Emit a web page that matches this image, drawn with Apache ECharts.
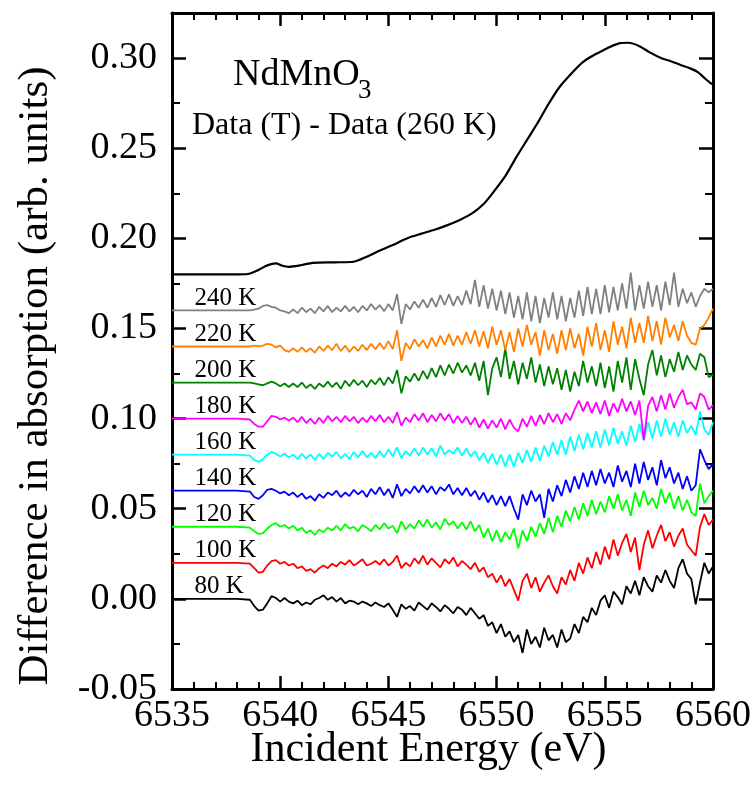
<!DOCTYPE html>
<html><head><meta charset="utf-8">
<script src="https://cdn.jsdelivr.net/npm/echarts@6/dist/echarts.min.js"></script>
<style>html,body{margin:0;padding:0;background:#fff}#chart{width:755px;height:795px}</style>
</head><body><div id="chart"></div>
<script>
// ---------- DATA ----------
const energies = [6535, 6536.5, 6538,
 6538.6, 6538.8, 6539, 6539.2, 6539.4, 6539.6, 6539.8, 6540, 6540.2, 6540.4,
 6540.6, 6540.8, 6541, 6541.2, 6541.4, 6541.6, 6541.8, 6542, 6542.2, 6542.4,
 6542.6, 6542.8, 6543, 6543.2, 6543.4, 6543.6, 6543.8, 6544, 6544.2, 6544.4,
 6544.6, 6544.8, 6545, 6545.2, 6545.4, 6545.6, 6545.8, 6546, 6546.2, 6546.4,
 6546.6, 6546.8, 6547, 6547.2, 6547.4, 6547.6, 6547.8, 6548, 6548.2, 6548.4,
 6548.6, 6548.8, 6549, 6549.2, 6549.4, 6549.6, 6549.8, 6550, 6550.2, 6550.4,
 6550.6, 6550.8, 6551, 6551.2, 6551.4, 6551.6, 6551.8, 6552, 6552.2, 6552.4,
 6552.6, 6552.8, 6553, 6553.2, 6553.4, 6553.6, 6553.8, 6554, 6554.2, 6554.4,
 6554.6, 6554.8, 6555, 6555.2, 6555.4, 6555.6, 6555.8, 6556, 6556.2, 6556.4,
 6556.6, 6556.8, 6557, 6557.2, 6557.4, 6557.6, 6557.8, 6558, 6558.2, 6558.4,
 6558.6, 6558.8, 6559, 6559.2, 6559.4, 6559.6, 6559.8, 6560];

const t80 = [0, 0, 0,
 -0.0005, -0.004, -0.0065, -0.006, -0.0025, 0.0015, 0.0005, -0.0015, 0.0005, -0.0015,
 -0.0025, -0.001, -0.0035, -0.002, -0.003, -0.0005, 0.0005, 0.002, -0.0005, 0.001,
 -0.0015, 0.0005, -0.0025, -0.001, -0.0015, -0.003, -0.0015, -0.0025, -0.004, -0.002,
 -0.0035, -0.0045, -0.0025, -0.006, -0.01, -0.003, -0.0055, -0.004, -0.0065, -0.002,
 -0.004, -0.006, -0.0025, -0.0045, -0.007, -0.0035, -0.0055, -0.008, -0.0045, -0.006,
 -0.009, -0.005, -0.008, -0.011, -0.009, -0.015, -0.013, -0.019, -0.014, -0.021,
 -0.018, -0.024, -0.02, -0.03, -0.017, -0.025, -0.021, -0.027, -0.016, -0.023,
 -0.02, -0.027, -0.017, -0.024, -0.022, -0.014, -0.019, -0.01, -0.013, -0.005,
 -0.009, -0.001, 0.002, -0.005, 0.004, 0.001, -0.003, 0.007, 0.003, 0.01,
 0.002, 0.012, 0.007, 0.004, 0.013, 0.009, 0.016, 0.01, 0.006, 0.017,
 0.022, 0.014, 0.011, -0.003, 0.009, 0.02, 0.014, 0.018];

const t100 = [0.02, 0.02, 0.02,
 0.0195, 0.017, 0.0145, 0.015, 0.0185, 0.021, 0.0215, 0.0195, 0.0205, 0.0185,
 0.0195, 0.017, 0.018, 0.0155, 0.0165, 0.0145, 0.017, 0.0185, 0.017, 0.0195,
 0.018, 0.0205, 0.019, 0.0215, 0.0185, 0.02, 0.022, 0.0185, 0.0195, 0.021,
 0.019, 0.022, 0.0185, 0.0205, 0.024, 0.017, 0.02, 0.018, 0.0225, 0.0195,
 0.024, 0.019, 0.0225, 0.02, 0.0175, 0.022, 0.0195, 0.023, 0.018, 0.021,
 0.019, 0.0165, 0.02, 0.015, 0.0175, 0.012, 0.014, 0.009, 0.013, 0.007,
 0.011, 0.005, -0.001, 0.01, 0.014, 0.006, 0.012, 0.004, 0.009, 0.013,
 0.007, 0.003, 0.012, 0.008, 0.016, 0.01, 0.02, 0.014, 0.023, 0.017,
 0.026, 0.019, 0.029, 0.022, 0.033, 0.024, 0.031, 0.036, 0.026, 0.034,
 0.016, 0.03, 0.038, 0.028, 0.035, 0.041, 0.032, 0.037, 0.029, 0.035,
 0.039, 0.03, 0.027, 0.024, 0.04, 0.047, 0.041, 0.044];

const t120 = [0.04, 0.04, 0.04,
 0.0395, 0.0375, 0.036, 0.0365, 0.039, 0.041, 0.042, 0.04, 0.041, 0.039,
 0.0405, 0.038, 0.0395, 0.0365, 0.038, 0.0355, 0.0385, 0.037, 0.0395, 0.038,
 0.0405, 0.038, 0.0415, 0.039, 0.04, 0.0375, 0.041, 0.0395, 0.0375, 0.041,
 0.0385, 0.042, 0.039, 0.0405, 0.0365, 0.043, 0.0385, 0.0415, 0.039, 0.0435,
 0.04, 0.044, 0.0395, 0.0425, 0.0385, 0.0445, 0.041, 0.043, 0.039, 0.0425,
 0.0385, 0.043, 0.0375, 0.041, 0.034, 0.039, 0.032, 0.038, 0.0315, 0.037,
 0.033, 0.039, 0.028, 0.038, 0.032, 0.04, 0.0345, 0.042, 0.036, 0.045,
 0.037, 0.046, 0.04, 0.049, 0.043, 0.051, 0.044, 0.053, 0.046, 0.055,
 0.047, 0.054, 0.048, 0.057, 0.05, 0.058, 0.049, 0.055, 0.046, 0.059,
 0.051, 0.06, 0.052, 0.056, 0.05, 0.061, 0.053, 0.059, 0.05, 0.057,
 0.049, 0.055, 0.048, 0.046, 0.064, 0.053, 0.057, 0.06];

const t140 = [0.06, 0.06, 0.06,
 0.0595, 0.0565, 0.0555, 0.0575, 0.0605, 0.061, 0.06, 0.0585, 0.0595, 0.0575,
 0.059, 0.0565, 0.0585, 0.0555, 0.057, 0.0545, 0.058, 0.056, 0.059, 0.0575,
 0.06, 0.0565, 0.059, 0.057, 0.0605, 0.058, 0.06, 0.0565, 0.061, 0.058,
 0.062, 0.0575, 0.061, 0.056, 0.0635, 0.057, 0.061, 0.0585, 0.0625, 0.059,
 0.063, 0.059, 0.0625, 0.058, 0.062, 0.06, 0.0635, 0.058, 0.0615, 0.0575,
 0.0615, 0.057, 0.06, 0.055, 0.059, 0.0535, 0.0575, 0.052, 0.057, 0.0515,
 0.057, 0.05, 0.044, 0.058, 0.052, 0.06, 0.054, 0.058, 0.045, 0.061,
 0.054, 0.063, 0.057, 0.066, 0.059, 0.068, 0.061, 0.07, 0.062, 0.071,
 0.063, 0.072, 0.064, 0.07, 0.062, 0.074, 0.065, 0.071, 0.062, 0.075,
 0.064, 0.076, 0.066, 0.073, 0.063, 0.077, 0.067, 0.073, 0.064, 0.07,
 0.061, 0.068, 0.06, 0.063, 0.083, 0.077, 0.072, 0.075];

const t160 = [0.08, 0.08, 0.08,
 0.0795, 0.077, 0.076, 0.0775, 0.08, 0.0815, 0.0805, 0.079, 0.0805, 0.0785,
 0.08, 0.0775, 0.0805, 0.078, 0.08, 0.077, 0.0805, 0.0775, 0.081, 0.079,
 0.0815, 0.078, 0.0805, 0.0775, 0.0815, 0.0785, 0.082, 0.0785, 0.081, 0.078,
 0.082, 0.0785, 0.083, 0.079, 0.084, 0.078, 0.082, 0.0795, 0.0835, 0.0795,
 0.084, 0.08, 0.0835, 0.079, 0.085, 0.08, 0.0825, 0.0805, 0.084, 0.0795,
 0.0835, 0.079, 0.082, 0.077, 0.081, 0.0755, 0.0805, 0.0745, 0.08, 0.0735,
 0.08, 0.073, 0.081, 0.0755, 0.0825, 0.076, 0.084, 0.0765, 0.085, 0.079,
 0.087, 0.08, 0.088, 0.08, 0.09, 0.082, 0.091, 0.083, 0.092, 0.084,
 0.093, 0.084, 0.094, 0.085, 0.095, 0.086, 0.093, 0.085, 0.096, 0.087,
 0.097, 0.088, 0.098, 0.089, 0.099, 0.09, 0.1, 0.091, 0.098, 0.09,
 0.099, 0.092, 0.096, 0.091, 0.104, 0.094, 0.091, 0.098];

const t180 = [0.1, 0.1, 0.1,
 0.0995, 0.097, 0.0955, 0.0955, 0.0985, 0.1015, 0.101, 0.0995, 0.1005, 0.099,
 0.1005, 0.098, 0.101, 0.0975, 0.1, 0.097, 0.1005, 0.0975, 0.1015, 0.0985,
 0.101, 0.098, 0.1015, 0.0985, 0.101, 0.0975, 0.1005, 0.098, 0.1015, 0.0985,
 0.102, 0.098, 0.101, 0.0975, 0.1035, 0.096, 0.1005, 0.098, 0.1025, 0.099,
 0.103, 0.098, 0.102, 0.0985, 0.103, 0.099, 0.1025, 0.0975, 0.1015, 0.0975,
 0.101, 0.0965, 0.1005, 0.095, 0.0995, 0.0945, 0.099, 0.095, 0.1, 0.094,
 0.0995, 0.095, 0.093, 0.1, 0.0955, 0.1015, 0.096, 0.102, 0.097, 0.103,
 0.098, 0.1025, 0.097, 0.103, 0.099, 0.105, 0.11, 0.104, 0.1095, 0.103,
 0.109, 0.1025, 0.11, 0.1015, 0.1085, 0.1035, 0.111, 0.104, 0.1095, 0.102,
 0.11, 0.088, 0.107, 0.112, 0.104, 0.113, 0.105, 0.114, 0.106, 0.112,
 0.116, 0.108, 0.109, 0.105, 0.114, 0.112, 0.105, 0.1075];

const t200 = [0.12, 0.12, 0.12,
 0.12, 0.1195, 0.119, 0.1185, 0.1195, 0.1205, 0.1195, 0.118, 0.1195, 0.1175,
 0.1195, 0.1175, 0.12, 0.117, 0.119, 0.1165, 0.1195, 0.1175, 0.1205, 0.1175,
 0.12, 0.1165, 0.121, 0.118, 0.1215, 0.1185, 0.121, 0.1175, 0.1215, 0.119,
 0.1225, 0.1185, 0.123, 0.1195, 0.127, 0.114, 0.1235, 0.1205, 0.125, 0.121,
 0.1265, 0.122, 0.128, 0.123, 0.1295, 0.124, 0.13, 0.125, 0.131, 0.1255,
 0.1295, 0.124, 0.131, 0.121, 0.132, 0.113, 0.128, 0.134, 0.123, 0.139,
 0.122, 0.132, 0.119, 0.131, 0.122, 0.134, 0.12, 0.13, 0.118, 0.129,
 0.119, 0.128, 0.116, 0.127, 0.115, 0.126, 0.118, 0.132, 0.12, 0.129,
 0.118, 0.131, 0.117, 0.129, 0.115, 0.132, 0.12, 0.134, 0.116, 0.133,
 0.122, 0.113, 0.13, 0.138, 0.124, 0.135, 0.123, 0.133, 0.126, 0.137,
 0.127, 0.135, 0.13, 0.127, 0.136, 0.134, 0.123, 0.1245];

const t220 = [0.14, 0.14, 0.14,
 0.14, 0.1405, 0.14, 0.1405, 0.1415, 0.141, 0.1395, 0.1405, 0.138, 0.137,
 0.139, 0.137, 0.1395, 0.137, 0.139, 0.1365, 0.14, 0.1375, 0.1405, 0.138,
 0.1415, 0.1375, 0.1405, 0.137, 0.14, 0.1375, 0.141, 0.138, 0.1415, 0.1385,
 0.142, 0.1385, 0.143, 0.1385, 0.149, 0.132, 0.142, 0.1385, 0.144, 0.14,
 0.1435, 0.139, 0.145, 0.14, 0.146, 0.141, 0.147, 0.1405, 0.146, 0.141,
 0.148, 0.1415, 0.149, 0.14, 0.1485, 0.139, 0.151, 0.141, 0.149, 0.138,
 0.148, 0.137, 0.15, 0.14, 0.152, 0.141, 0.148, 0.135, 0.149, 0.138,
 0.147, 0.136, 0.149, 0.138, 0.15, 0.139, 0.147, 0.135, 0.151, 0.14,
 0.153, 0.138, 0.149, 0.137, 0.154, 0.141, 0.151, 0.139, 0.156, 0.142,
 0.153, 0.142, 0.157, 0.143, 0.154, 0.141, 0.156, 0.145, 0.152, 0.143,
 0.154, 0.146, 0.142, 0.141, 0.15, 0.152, 0.156, 0.161];

const t240 = [0.16, 0.16, 0.16,
 0.16, 0.1605, 0.161, 0.1625, 0.163, 0.162, 0.1615, 0.16, 0.1595, 0.1585,
 0.1605, 0.1585, 0.1615, 0.159, 0.161, 0.1585, 0.162, 0.1595, 0.1625, 0.159,
 0.1615, 0.1595, 0.1625, 0.1595, 0.162, 0.159, 0.1625, 0.16, 0.1635, 0.1605,
 0.163, 0.1595, 0.1635, 0.16, 0.169, 0.1525, 0.1635, 0.1605, 0.165, 0.1615,
 0.166, 0.1615, 0.167, 0.162, 0.1685, 0.163, 0.169, 0.1625, 0.168, 0.163,
 0.171, 0.1635, 0.177, 0.162, 0.174, 0.161, 0.172, 0.16, 0.171, 0.158,
 0.17, 0.156, 0.168, 0.155, 0.17, 0.154, 0.168, 0.153, 0.167, 0.156,
 0.17, 0.155, 0.168, 0.154, 0.167, 0.156, 0.171, 0.157, 0.173, 0.158,
 0.172, 0.158, 0.174, 0.159, 0.173, 0.16, 0.175, 0.161, 0.181, 0.16,
 0.174, 0.161, 0.176, 0.162, 0.174, 0.16, 0.176, 0.163, 0.181, 0.162,
 0.172, 0.164, 0.17, 0.162, 0.168, 0.172, 0.17, 0.172];

// upper curve
const topEnergies = [6535, 6538, 6538.5, 6539, 6539.4, 6539.8, 6540.1, 6540.4, 6541, 6541.5,
 6542.5, 6543.4, 6544, 6544.6, 6545.2, 6545.9, 6546.5, 6547.1, 6547.7, 6548.3,
 6548.9, 6549.4, 6549.8, 6550.4, 6550.9, 6551.4, 6551.9, 6552.4, 6552.9, 6553.5,
 6554, 6554.4, 6554.8, 6555.2, 6555.7, 6556.1, 6556.6, 6557.1, 6557.6, 6558,
 6558.5, 6559, 6559.3, 6559.6, 6559.9, 6560];
const topValues = [0.18, 0.18, 0.1802, 0.1825, 0.185, 0.1861, 0.1848, 0.1842, 0.1852, 0.1864,
 0.1867, 0.187, 0.1898, 0.1932, 0.1963, 0.2002, 0.2025, 0.2046, 0.2072, 0.2102,
 0.2141, 0.219, 0.2248, 0.2345, 0.2448, 0.2545, 0.2641, 0.2745, 0.2838, 0.292,
 0.2979, 0.301, 0.3035, 0.306, 0.3083, 0.3085, 0.3066, 0.303, 0.3, 0.2985,
 0.2962, 0.294, 0.2922, 0.289, 0.286, 0.2855];

const traceNames = ['80 K', '100 K', '120 K', '140 K', '160 K', '180 K', '200 K', '220 K', '240 K'];
const traceOffsets = [0, 0.02, 0.04, 0.06, 0.08, 0.10, 0.12, 0.14, 0.16];
const labelEnergy = 6536.06;

// ---------- STYLE ----------
const traces = [t80, t100, t120, t140, t160, t180, t200, t220, t240];
const colors = ['#000000', '#ff0000', '#00ff00', '#0000ff', '#00ffff', '#ff00ff', '#008000', '#ff8000', '#808080'];
const FONT = '"Liberation Serif", "Times New Roman", serif';

const series = traces.map((vals, i) => ({
  name: traceNames[i], type: 'line', symbol: 'none', showSymbol: false, animation: false,
  lineStyle: { width: 1.8, color: colors[i] }, itemStyle: { color: colors[i] },
  z: 2,
  data: energies.map((e, j) => [e, vals[j]]),
  markPoint: {
    symbol: 'rect', symbolSize: 1, silent: true, animation: false,
    itemStyle: { color: 'rgba(0,0,0,0)' },
    label: { show: true, position: [0, -12], align: 'left', verticalAlign: 'middle',
      color: '#000', fontFamily: FONT, fontSize: 25, formatter: traceNames[i] },
    data: [{ coord: [labelEnergy, traceOffsets[i]] }]
  }
}));
series.push({
  name: 'Data (T) - Data (260 K)', type: 'line', symbol: 'none', showSymbol: false, animation: false,
  smooth: 0.25, z: 3,
  lineStyle: { width: 2.2, color: '#000' },
  data: topEnergies.map((e, j) => [e, topValues[j]])
});

const axisLine = { show: true, onZero: false, lineStyle: { color: '#000', width: 3 } };
const xCommon = {
  type: 'value', min: 6535, max: 6560, interval: 5,
  axisLine, splitLine: { show: false },
  axisTick: { show: true, inside: true, length: 13, lineStyle: { color: '#000', width: 2.5 } },
  minorTick: { show: true, splitNumber: 5, length: 7, lineStyle: { color: '#000', width: 2 } },
  minorSplitLine: { show: false }
};
const yCommon = {
  type: 'value', min: -0.05, max: 0.325, interval: 0.05,
  axisLine, splitLine: { show: false },
  axisTick: { show: true, inside: true, length: 14, lineStyle: { color: '#000', width: 2.5 } },
  minorTick: { show: true, splitNumber: 2, length: 8, lineStyle: { color: '#000', width: 2 } },
  minorSplitLine: { show: false }
};

const chart = echarts.init(document.getElementById('chart'), null, { renderer: 'canvas' });
chart.setOption({
  backgroundColor: '#fff',
  animation: false,
  grid: { left: 172, right: 42, top: 13, bottom: 106, containLabel: false, outerBoundsMode: 'none' },
  xAxis: [
    Object.assign({}, xCommon, {
      position: 'bottom',
      axisLabel: { show: true, margin: 8, color: '#000', fontFamily: FONT, fontSize: 38,
        formatter: v => String(v) },
      name: 'Incident Energy (eV)', nameLocation: 'middle', nameGap: 40, nameMoveOverlap: false,
      nameTextStyle: { color: '#000', fontFamily: FONT, fontSize: 42, padding: [0, 28, 0, 0] }
    }),
    Object.assign({}, xCommon, { position: 'top', axisLabel: { show: false } })
  ],
  yAxis: [
    Object.assign({}, yCommon, {
      position: 'left',
      axisLabel: { show: true, margin: 15, color: '#000', fontFamily: FONT, fontSize: 38,
        showMaxLabel: false, formatter: v => v.toFixed(2) },
      name: 'Difference in absorption (arb. units)', nameLocation: 'middle', nameRotate: 90,
      nameGap: 115, nameMoveOverlap: false,
      nameTextStyle: { color: '#000', fontFamily: FONT, fontSize: 43, padding: [0, 50, 0, 0] }
    }),
    Object.assign({}, yCommon, { position: 'right', axisLabel: { show: false } })
  ],
  graphic: [
    { type: 'text', x: 233, y: 75, silent: true,
      style: { text: 'NdMnO', fill: '#000', fontFamily: FONT, fontSize: 38,
        align: 'left', textAlign: 'left', verticalAlign: 'middle', textVerticalAlign: 'middle' } },
    { type: 'text', x: 358, y: 91, silent: true,
      style: { text: '3', fill: '#000', fontFamily: FONT, fontSize: 27,
        align: 'left', textAlign: 'left', verticalAlign: 'middle', textVerticalAlign: 'middle' } },
    { type: 'text', x: 192, y: 126, silent: true,
      style: { text: 'Data (T) - Data (260 K)', fill: '#000', fontFamily: FONT, fontSize: 32,
        align: 'left', textAlign: 'left', verticalAlign: 'middle', textVerticalAlign: 'middle' } }
  ],
  series
});
</script>
</body></html>
